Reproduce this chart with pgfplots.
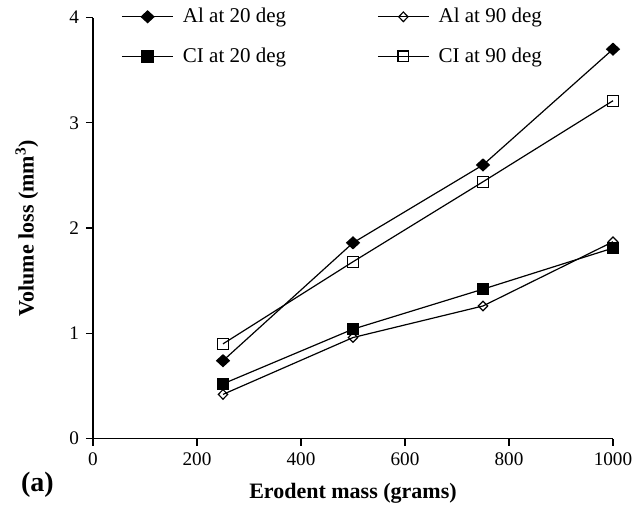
\documentclass[border=0pt]{standalone}
\usepackage{pgfplots}
\pgfplotsset{compat=1.18}
\usepackage{fontspec}
\setmainfont{Liberation Serif}
\begin{document}
\begin{tikzpicture}
\begin{axis}[
  name=ax,
  scale only axis,
  width=260pt, height=210.5pt,
  xmin=0, xmax=1000, ymin=0, ymax=4,
  xtick={0,200,...,1000}, ytick={0,1,2,3,4},
  axis lines*=left,
  axis line style={line width=0.8pt},
  tick align=outside,
  major tick length=3.5pt,
  tick style={line width=0.6pt, black},
  /pgf/number format/assume math mode=true,
  /pgf/number format/1000 sep={},
  tick label style={font=\fontsize{9.6}{10}\selectfont},
  xlabel={\textbf{Erodent mass (grams)}},
  ylabel={\textbf{Volume loss (mm\textsuperscript{3})}},
  label style={font=\fontsize{11}{12}\selectfont},
  xlabel style={at={(axis description cs:0.5,-0.131)}, anchor=center},
  ylabel style={at={(axis description cs:-0.127,0.5)}, anchor=center},
  clip=false,
  legend columns=2,
  legend cell align=left,
  legend style={draw=none, fill=none, at={(rel axis cs:0,1)}, anchor=north west,
    xshift=11pt, yshift=9pt, font=\fontsize{10.5}{12}\selectfont, row sep=7pt,
    /tikz/every even column/.append style={column sep=43.5pt}},
  legend image code/.code={\draw[mark repeat=2,mark phase=2] plot coordinates {(0cm,0cm)(0.45cm,0cm)(0.9cm,0cm)};\path (0.99cm,0cm);},
  every axis plot/.append style={black, line width=0.6pt},
]
\addplot[mark=diamond*, mark size=2.9pt, mark options={xscale=1.45, solid}] coordinates {
  (250,0.74) (500,1.86) (750,2.60) (1000,3.70)
};
\addlegendentry{Al at 20 deg}
\addplot[mark=diamond, mark size=2.4pt, mark options={xscale=1.3, fill=white, line width=0.6pt}] coordinates {
  (250,0.42) (500,0.96) (750,1.26) (1000,1.87)
};
\addlegendentry{Al at 90 deg}
\addplot[mark=square*, mark size=2.8pt] coordinates {
  (250,0.52) (500,1.04) (750,1.42) (1000,1.81)
};
\addlegendentry{CI at 20 deg}
\addplot[mark=square, mark size=2.7pt, mark options={fill=white, line width=0.6pt}] coordinates {
  (250,0.90) (500,1.68) (750,2.44) (1000,3.21)
};
\addlegendentry{CI at 90 deg}
\coordinate (o) at (rel axis cs:0,0);
\coordinate (t) at (rel axis cs:1,1);
\node[anchor=west, font=\fontsize{14}{16}\selectfont\bfseries] at ([xshift=-39.5pt,yshift=-23pt]o) {(a)};
\end{axis}
\path ([xshift=-46.5pt,yshift=-34.5pt]o) rectangle ([xshift=15.5pt,yshift=8pt]t);
\end{tikzpicture}
\end{document}
